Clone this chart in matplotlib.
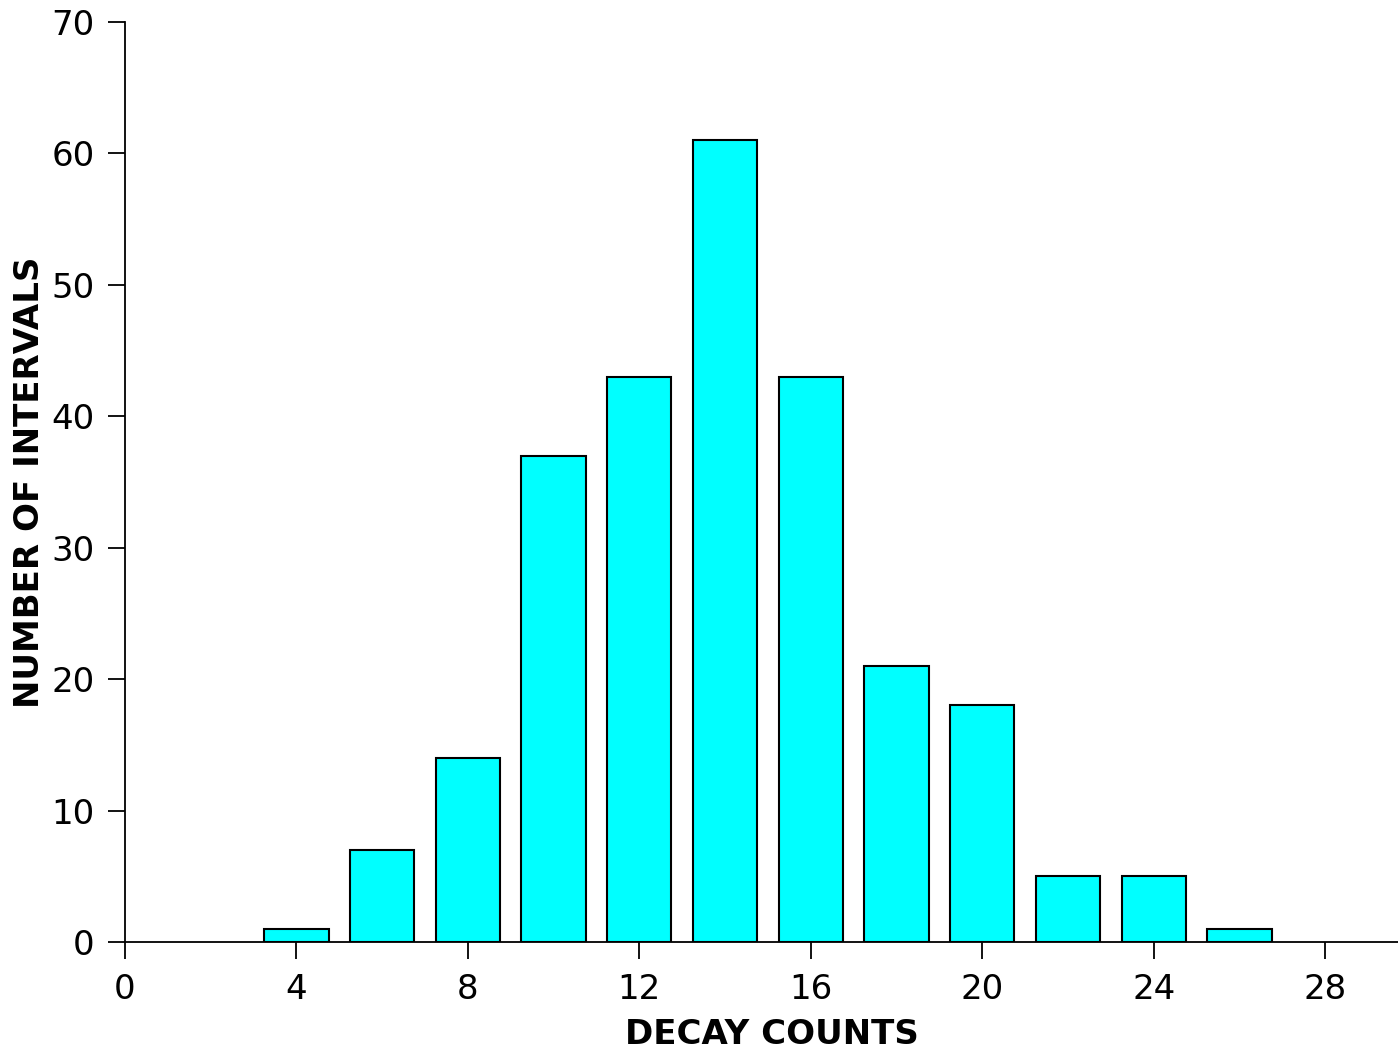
import matplotlib
matplotlib.use("Agg")
import matplotlib.pyplot as plt

plt.rcParams.update({'font.size': 24.5, 'font.family': 'DejaVu Sans'})

# decay counts per interval and how many intervals gave each count
counts = [4, 6, 8, 10, 12, 14, 16, 18, 20, 22, 24, 26]
intervals = [1, 7, 14, 37, 43, 61, 43, 21, 18, 5, 5, 1]
xticks = [0, 4, 8, 12, 16, 20, 24, 28]
yticks = [0, 10, 20, 30, 40, 50, 60, 70]

fig = plt.figure(figsize=(13.98, 10.5), dpi=100)
ax = fig.add_axes([0.0894, 0.1029, 0.9106, 0.8761])

ax.bar(counts, intervals, width=1.5, color='#00ffff', edgecolor='black',
       linewidth=1.5, zorder=2)

ax.set_xlim(0, 29.7)
ax.set_ylim(0, 70)
ax.set_xticks(xticks)
ax.set_yticks(yticks)
ax.tick_params(direction='out', length=12, width=1.3, pad=10)

ax.spines['top'].set_visible(False)
ax.spines['right'].set_visible(False)
ax.spines['left'].set_linewidth(1.3)
ax.spines['bottom'].set_linewidth(1.3)

ax.set_xlabel('DECAY COUNTS', fontweight='bold', labelpad=9)
ax.xaxis.label.set_x(0.508)
ax.set_ylabel('NUMBER OF INTERVALS', fontweight='bold', labelpad=4)

fig.savefig('out.png', dpi=100, facecolor='white')
